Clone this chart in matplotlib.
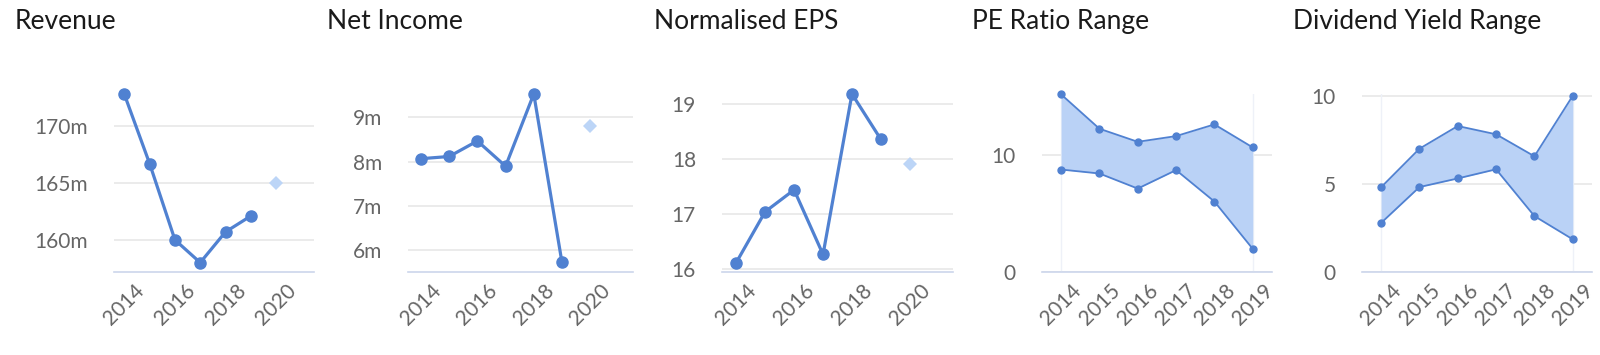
import numpy as np
import matplotlib
matplotlib.use("Agg")
import matplotlib.pyplot as plt

plt.rcParams['font.family'] = ['Lato', 'DejaVu Sans']

# line charts (2014-2019 actuals, 2020 forecast)
years = [2014, 2015, 2016, 2017, 2018, 2019]
forecast_year = 2020
revenue = [172.8, 166.7, 160.0, 158.0, 160.7, 162.1]
revenue_fc = 165.0
net_income = [8.07, 8.12, 8.47, 7.90, 9.53, 5.73]
net_income_fc = 8.80
eps = [16.11, 17.04, 17.44, 16.26, 19.19, 18.36]
eps_fc = 17.91

# range charts
range_years = ['2014', '2015', '2016', '2017', '2018', '2019']
pe_high = [15.17, 12.23, 11.11, 11.60, 12.60, 10.63]
pe_low = [8.74, 8.40, 7.11, 8.69, 6.00, 1.95]
dy_high = [4.80, 6.99, 8.28, 7.81, 6.56, 10.00]
dy_low = [2.77, 4.81, 5.30, 5.82, 3.16, 1.84]

titles = ['Revenue', 'Net Income', 'Normalised EPS', 'PE Ratio Range', 'Dividend Yield Range']
title_x = [15, 327, 654, 972, 1293]

LINE = '#5081d1'
FILL = '#bad2f6'
FC = '#bcd5f7'
GRID = '#e6e6e6'
AXIS = '#ccd6eb'
TXT = '#666666'

W, H = 1600, 355
fig = plt.figure(figsize=(16, 3.55), dpi=100)

def make_ax(x0, x1, top=94, bottom=271.7):
    return fig.add_axes([x0 / W, (H - bottom) / H, (x1 - x0) / W, (bottom - top) / H])

def style(ax):
    for s in ['top', 'right', 'left']:
        ax.spines[s].set_visible(False)
    ax.spines['bottom'].set_color(AXIS)
    ax.spines['bottom'].set_linewidth(1.2)
    ax.yaxis.grid(True, color=GRID, linewidth=1.1)
    ax.set_axisbelow(True)
    ax.tick_params(length=0, labelsize=15, labelcolor=TXT)
    ax.tick_params(axis='y', pad=19)
    ax.tick_params(axis='x', pad=6)
    for lab in ax.get_xticklabels():
        lab.set_rotation(45)
        lab.set_ha('center')
        lab.set_va('top')

axes_px = [(114, 314), (408.3, 633.3), (722.3, 953.3), (1042.3, 1272.3), (1362.3, 1592.3)]

# line panels
line_data = [
    (revenue, revenue_fc, (157.2, 172.83), [160, 165, 170], lambda v: f'{v:g}m'),
    (net_income, net_income_fc, (5.52, 9.53), [6, 7, 8, 9], lambda v: f'{v:g}m'),
    (eps, eps_fc, (15.945, 19.19), [16, 17, 18, 19], lambda v: f'{v:g}'),
]
xlims = [(2013.59, 2021.5), (2013.55, 2021.53), (2013.52, 2021.5)]
for i, (vals, fc, ylim, yt, fmt) in enumerate(line_data):
    ax = make_ax(*axes_px[i])
    ax.plot(years, vals, color=LINE, lw=2.3, marker='o', ms=8, clip_on=False, zorder=3)
    ax.plot([forecast_year], [fc], ls='none', marker='D', ms=7.5, color=FC,
            markeredgewidth=0, clip_on=False, zorder=3)
    ax.set_xlim(*xlims[i])
    ax.set_ylim(*ylim)
    ax.set_yticks(yt)
    ax.set_yticklabels([fmt(v) for v in yt])
    ax.set_xticks([2014, 2016, 2018, 2020])
    ax.set_xticklabels(['2014', '2016', '2018', '2020'])
    style(ax)

# range panels
range_data = [
    (pe_high, pe_low, (0, 15.2), [0, 10]),
    (dy_high, dy_low, (0, 10.1), [0, 5, 10]),
]
for j, (hi, lo, ylim, yt) in enumerate(range_data):
    ax = make_ax(*axes_px[3 + j])
    x = np.arange(len(range_years))
    ax.fill_between(x, lo, hi, color=FILL, lw=0, zorder=2)
    ax.plot(x, hi, color=LINE, lw=1.3, marker='o', ms=5, clip_on=False, zorder=3)
    ax.plot(x, lo, color=LINE, lw=1.3, marker='o', ms=5, clip_on=False, zorder=3)
    ax.axvline(x[0], color='#eef1f8', lw=1, zorder=1)
    ax.axvline(x[-1], color='#eef1f8', lw=1, zorder=1)
    ax.set_xlim(-0.49, 5.51)
    ax.set_ylim(*ylim)
    ax.set_yticks(yt)
    ax.set_yticklabels([str(v) for v in yt])
    ax.set_xticks(x)
    ax.set_xticklabels(range_years)
    style(ax)

for t, tx in zip(titles, title_x):
    fig.text(tx / W, (H - 29.3) / H, t, fontsize=19, color='#1a1a1a', va='baseline', ha='left')

fig.savefig('out.png', dpi=100, facecolor='white')
